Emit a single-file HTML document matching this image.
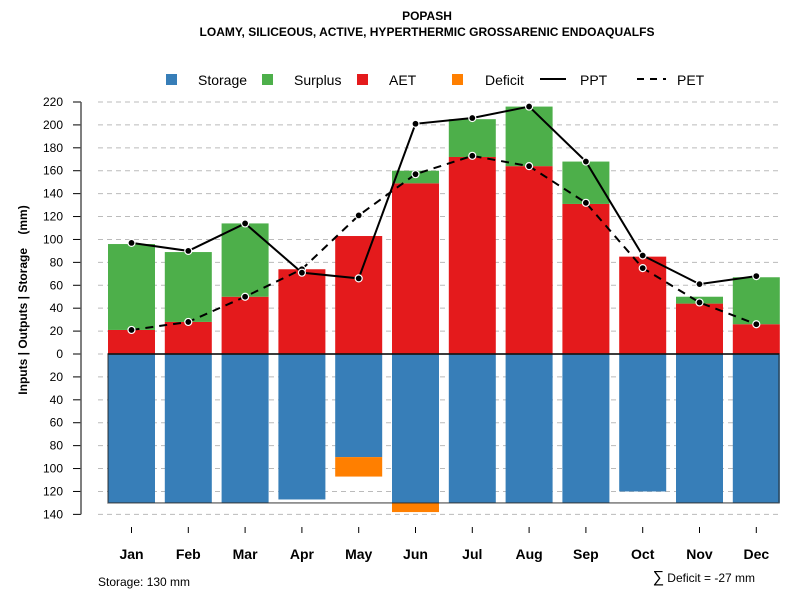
<!DOCTYPE html>
<html><head><meta charset="utf-8"><style>
body{margin:0;background:#fff;}
svg text{font-family:"Liberation Sans",Arial,sans-serif;}
</style></head><body>
<svg id="c" width="800" height="600" xmlns="http://www.w3.org/2000/svg">
<text x="427" y="20" text-anchor="middle" font-size="12" font-weight="bold">POPASH</text>
<text x="427" y="36" text-anchor="middle" font-size="12" font-weight="bold">LOAMY, SILICEOUS, ACTIVE, HYPERTHERMIC GROSSARENIC ENDOAQUALFS</text>
<g>
<rect x="166" y="74" width="11" height="11" fill="#377eb8"/>
<text x="198" y="85" font-size="14">Storage</text>
<rect x="262" y="74" width="11" height="11" fill="#4daf4a"/>
<text x="294" y="85" font-size="14">Surplus</text>
<rect x="357" y="74" width="11" height="11" fill="#e41a1c"/>
<text x="389" y="85" font-size="14">AET</text>
<rect x="452" y="74" width="11" height="11" fill="#ff7f00"/>
<text x="485" y="85" font-size="14">Deficit</text>
<line x1="540" y1="79" x2="566" y2="79" stroke="#000" stroke-width="2"/>
<text x="580" y="85" font-size="14">PPT</text>
<line x1="637" y1="79" x2="666" y2="79" stroke="#000" stroke-width="2" stroke-dasharray="7,6"/>
<text x="677" y="85" font-size="14">PET</text>
</g>
<text transform="translate(27,300) rotate(-90)" text-anchor="middle" font-size="12" font-weight="bold">Inputs | Outputs | Storage&#160;&#160;&#160;&#160;(mm)</text>
<text x="98" y="586" font-size="12">Storage: 130 mm</text>
<text x="755" y="582" text-anchor="end" font-size="12"><tspan font-size="16">∑</tspan> Deficit = -27 mm</text>
<g id="plot"></g>
</svg>
<script>
const months=["Jan","Feb","Mar","Apr","May","Jun","Jul","Aug","Sep","Oct","Nov","Dec"];
const aet=[21,28,50,74,103,149,172,164,131,85,44,26];
const surplus=[75,61,64,0,0,11,33,52,37,0,6,41];
const storage=[130,130,130,127,90,130,130,130,130,120,130,130];
const deficit=[0,0,0,0,17,8,0,0,0,0,0,0];
const ppt=[97,90,114,71,66,201,206,216,168,86,61,68];
const pet=[21,28,50,74,121,157,173,164,132,75,45,26];
const yTicks=[220,200,180,160,140,120,100,80,60,40,20,0,20,40,60,80,100,120,140];
const NS="http://www.w3.org/2000/svg";
const g=document.getElementById("plot");
const y0=354,k=252/220;
const Y=v=>y0-v*k;
const X=i=>131.5+i*56.8;
const bw=47;
function mk(t,a){const e=document.createElementNS(NS,t);for(const n in a)e.setAttribute(n,a[n]);g.appendChild(e);return e;}
// grid + y ticks
yTicks.forEach((t,i)=>{const v=i<=11?t:-t;const y=Y(v);
 const gl=mk("line",{x1:98,x2:780,y1:y,y2:y,stroke:"#bbb","stroke-dasharray":"5,4"});
 
 
 const tk=mk("line",{x1:73,x2:81,y1:y,y2:y,stroke:"#000"});
 
 
 const tx=mk("text",{x:63,y:y+4,"text-anchor":"end","font-size":12});tx.textContent=t;
 
 
});
const ax=mk("line",{x1:81,x2:81,y1:Y(220),y2:Y(-140),stroke:"#555","stroke-width":1.5});


months.forEach((m,i)=>{const x=X(i),l=x-bw/2;
 const s=mk("rect",{x:l,y:y0,width:bw,height:storage[i]*k,fill:"#377eb8"});
 
 
 if(deficit[i]>0){const d=mk("rect",{x:l,y:Y(-storage[i]),width:bw,height:deficit[i]*k,fill:"#ff7f00"});
  
  }
 const a=mk("rect",{x:l,y:Y(aet[i]),width:bw,height:aet[i]*k,fill:"#e41a1c"});
 
 
 if(surplus[i]>0){const su=mk("rect",{x:l,y:Y(aet[i]+surplus[i]),width:bw,height:surplus[i]*k,fill:"#4daf4a"});
  
  }
 const tk=mk("line",{x1:x,x2:x,y1:527,y2:533,stroke:"#000"});
 
 
 const t=mk("text",{x:x,y:559,"text-anchor":"middle","font-size":14,"font-weight":"bold"});t.textContent=m;
 
 
});
const box=mk("rect",{x:108,y:y0,width:671,height:130*k,fill:"none",stroke:"#222","stroke-opacity":0.6,"stroke-width":1.5});


const z=mk("line",{x1:108,x2:779,y1:y0,y2:y0,stroke:"#111","stroke-width":1.5});


function series(vals,name,dash){
 const p=mk("polyline",{points:vals.map((v,i)=>X(i)+","+Y(v)).join(" "),fill:"none",stroke:"#000","stroke-width":2,"stroke-dasharray":dash});
 
 
 vals.forEach((v,i)=>{const c=mk("circle",{cx:X(i),cy:Y(v),r:3.5,fill:"#000",stroke:"#fff","stroke-width":1.2});
  
  });
}
series(pet,"pet","8,6");
series(ppt,"ppt","none");
</script>
</body></html>
